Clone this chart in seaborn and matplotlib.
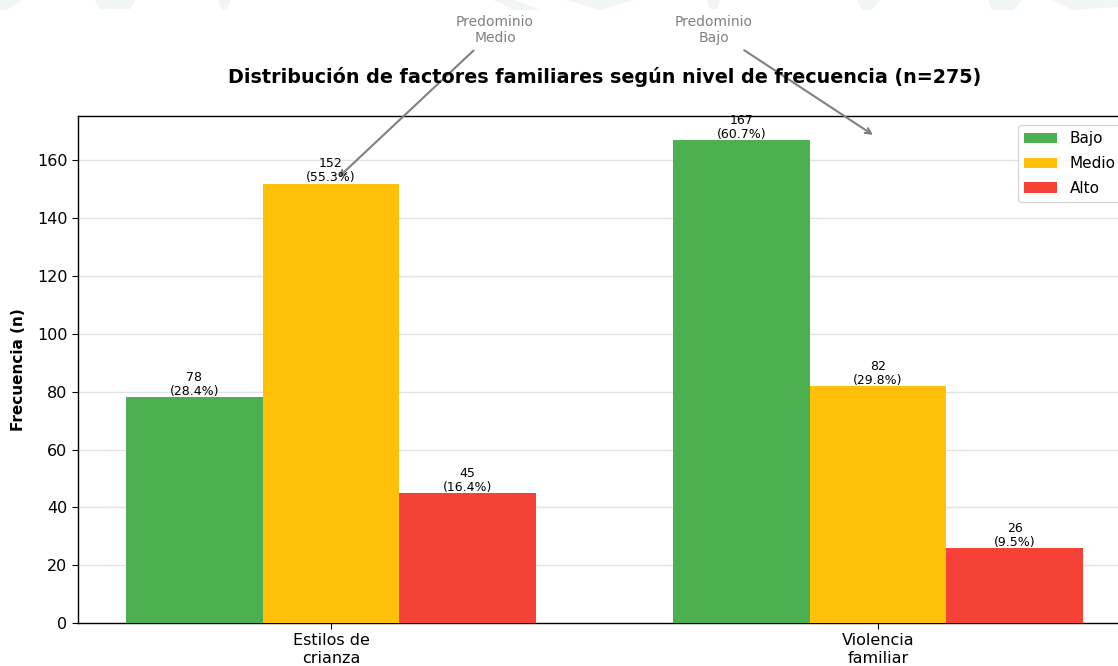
import matplotlib
matplotlib.use("Agg")
import matplotlib.pyplot as plt
import seaborn as sns
import pandas as pd
from matplotlib.patches import Polygon

# ---- data ----
factores = ["Estilos de\ncrianza", "Violencia\nfamiliar"]
niveles = ["Bajo", "Medio", "Alto"]
bajo = [78, 167]
medio = [152, 82]
alto = [45, 26]
pct_bajo = [28.4, 60.7]
pct_medio = [55.3, 29.8]
pct_alto = [16.4, 9.5]
colores = ["#4CAF50", "#FFC107", "#F44336"]
titulo = "Distribución de factores familiares según nivel de frecuencia (n=275)"
anotaciones = [("Predominio\nMedio", 0, 152), ("Predominio\nBajo", 1, 167)]

rows = []
for i, f in enumerate(factores):
    for nv, vals, pcts in zip(niveles, [bajo, medio, alto], [pct_bajo, pct_medio, pct_alto]):
        rows.append({"factor": f, "nivel": nv, "n": vals[i], "pct": pcts[i]})
df = pd.DataFrame(rows)

sns.set_style("white")
plt.rcParams["font.family"] = ["DejaVu Sans"]
plt.rcParams["text.color"] = "black"
plt.rcParams["axes.labelcolor"] = "black"
plt.rcParams["xtick.color"] = "black"
plt.rcParams["ytick.color"] = "black"

fig = plt.figure(figsize=(11.18, 6.66), dpi=100)

# faint watermark remnants at the top edge
W, H = 1118, 666
def px_poly(pts, color="#f1f5f3"):
    fig.patches.append(Polygon([(x / W, 1 - y / H) for x, y in pts], closed=True,
                               transform=fig.transFigure, facecolor=color,
                               edgecolor="none", zorder=0))
px_poly([(0, 0), (22, 0), (8, 9), (0, 10)])
px_poly([(95, 0), (136, 0), (130, 9), (100, 9)])
px_poly([(218, 0), (230, 0), (227, 10), (222, 10)])
px_poly([(493, 0), (515, 0), (540, 10), (515, 10)])
px_poly([(565, 0), (635, 0), (600, 10)])
px_poly([(707, 0), (720, 0), (717, 9), (710, 9)])
px_poly([(857, 0), (880, 0), (872, 10), (862, 10)])
px_poly([(988, 0), (1022, 0), (1014, 10), (992, 10)])
px_poly([(1052, 0), (1118, 0), (1118, 7), (1072, 10)])

ax = fig.add_axes([78 / W, 43 / H, (1131 - 78) / W, 507 / H])

sns.barplot(data=df, x="factor", y="n", hue="nivel", hue_order=niveles,
            palette=colores, saturation=1, width=0.75, ax=ax, zorder=3,
            linewidth=0, edgecolor="none")

# value labels
for cont, pcts, vals in zip(ax.containers, [pct_bajo, pct_medio, pct_alto], [bajo, medio, alto]):
    for bar, p, v in zip(cont, pcts, vals):
        ax.text(bar.get_x() + bar.get_width() / 2, bar.get_height() - 0.3,
                f"{v}\n({p}%)", ha="center", va="bottom", fontsize=9,
                linespacing=1.1, zorder=5)

ax.set_xlim(-0.4625, 1.4625)
ax.set_ylim(0, 175.35)
ax.set_xlabel("")
ax.set_ylabel("Frecuencia (n)", fontsize=11, fontweight="bold", labelpad=8)
ax.tick_params(axis="both", labelsize=11.5, length=4, color="black", left=True, bottom=True)
ax.set_title(titulo, fontsize=13.8, fontweight="bold", pad=24)
ax.yaxis.grid(True, color="#e3e3e3", linewidth=1)
ax.set_axisbelow(True)
for s in ax.spines.values():
    s.set_color("black")
    s.set_linewidth(1)

ax.legend(loc="upper right", fontsize=11, frameon=True, labelspacing=0.65,
          handlelength=2.2, borderaxespad=0.6)

# annotations
ax.annotate(anotaciones[0][0], xy=(0.01, 153.5), xytext=(0.3, 205),
            ha="center", va="center", fontsize=10, color="gray",
            arrowprops=dict(arrowstyle="->", color="gray", lw=1.5),
            annotation_clip=False)
ax.annotate(anotaciones[1][0], xy=(0.995, 168.3), xytext=(0.7, 205),
            ha="center", va="center", fontsize=10, color="gray",
            arrowprops=dict(arrowstyle="->", color="gray", lw=1.5),
            annotation_clip=False)

fig.savefig("out.png", dpi=100)
